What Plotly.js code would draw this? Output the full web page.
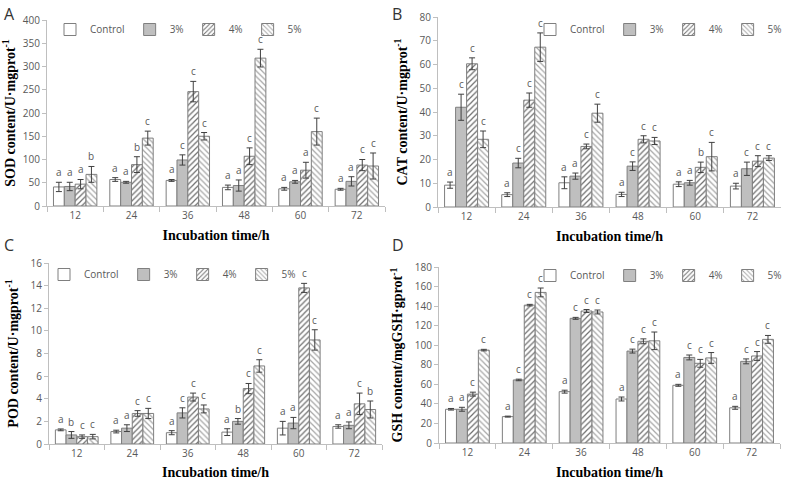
<!DOCTYPE html>
<html>
<head>
<meta charset="utf-8">
<script src="https://cdn.plot.ly/plotly-3.0.1.min.js"></script>
<style>html,body{margin:0;padding:0;background:#fff;}#chart{width:787px;height:480px;}</style>
</head>
<body>
<div id="chart"></div>
<script>
// ---------- data ----------
const categories = ['12', '24', '36', '48', '60', '72'];
const seriesNames = ['Control', '3%', '4%', '5%'];

// SOD (panel A): rows = Control, 3%, 4%, 5%
const sodMean = [[41, 57, 55, 40, 37, 36], [42, 51, 99, 44, 52, 53], [47, 89, 246, 107, 77, 88], [68, 146, 150, 318, 160, 86]];
const sodErr = [[10, 4, 2, 5, 3, 2], [9, 2, 11, 12, 3, 10], [10, 17, 22, 18, 17, 12], [17, 15, 8, 19, 29, 28]];
const sodLetters = [['a', 'a', 'a', 'a', 'a', 'a'], ['a', 'a', 'c', 'a', 'a', 'a'], ['a', 'b', 'c', 'c', 'a', 'c'], ['b', 'c', 'c', 'c', 'c', 'c']];

// CAT (panel B)
const catMean = [[9.2, 5.2, 10.2, 5.3, 9.6, 8.8], [42, 18.5, 13, 17.2, 10.2, 16.1], [60.3, 45, 25.5, 28.5, 16.7, 19.3], [28.5, 67.3, 39.5, 27.8, 21.2, 20.6]];
const catErr = [[1.3, 0.8, 2.5, 0.9, 1, 1.2], [5.5, 2, 1.3, 1.8, 1, 2.8], [2.5, 3, 1, 1.5, 2.2, 2.3], [3.5, 6, 3.8, 1.5, 6, 1]];
const catLetters = [['a', 'a', 'a', 'a', 'a', 'a'], ['c', 'c', 'a', 'c', 'a', 'c'], ['c', 'c', 'c', 'c', 'b', 'c'], ['c', 'c', 'c', 'c', 'c', 'c']];

// POD (panel C)
const podMean = [[1.25, 1.1, 1.0, 1.05, 1.4, 1.55], [0.8, 1.4, 2.75, 2.0, 1.85, 1.65], [0.65, 2.7, 4.15, 4.9, 13.8, 3.55], [0.65, 2.7, 3.1, 6.9, 9.2, 3.05]];
const podErr = [[0.08, 0.12, 0.18, 0.3, 0.6, 0.15], [0.3, 0.3, 0.45, 0.25, 0.5, 0.3], [0.15, 0.25, 0.35, 0.45, 0.4, 0.95], [0.2, 0.45, 0.35, 0.55, 0.9, 0.75]];
const podLetters = [['a', 'a', 'a', 'a', 'a', 'a'], ['b', 'a', 'c', 'b', 'a', 'a'], ['c', 'c', 'c', 'c', 'c', 'c'], ['c', 'c', 'c', 'c', 'c', 'b']];

// GSH (panel D)
const gshMean = [[34.5, 27, 52.5, 45, 59, 36], [34.5, 64.5, 127.5, 94, 87.5, 83.5], [50, 141, 135, 104, 81.5, 89], [95, 154, 134, 104.5, 87, 106]];
const gshErr = [[0.8, 0.5, 1.5, 2, 1, 1.5], [2, 0.8, 1, 2, 2.5, 2.5], [2, 0.8, 1.5, 2.5, 4, 4.5], [0.8, 4.5, 2, 9, 5.5, 4]];
const gshLetters = [['a', 'a', 'a', 'a', 'a', 'a'], ['a', 'c', 'c', 'c', 'c', 'c'], ['c', 'c', 'c', 'c', 'c', 'c'], ['c', 'c', 'c', 'c', 'c', 'c']];

// ---------- styles ----------
const outline = '#7f7f7f';
const BARGAP = 0.23;
const seriesMarkers = [
  {color: '#ffffff', line: {color: outline, width: 1}},
  {color: '#bfbfbf', line: {color: outline, width: 1}},
  {color: '#ffffff', line: {color: outline, width: 1}, pattern: {shape: '/', fgcolor: '#6e6e6e', bgcolor: '#ffffff', size: 4, solidity: 0.3}},
  {color: '#ffffff', line: {color: outline, width: 1}, pattern: {shape: '\\', fgcolor: '#a6a6a6', bgcolor: '#ffffff', size: 4, solidity: 0.3}}
];

const panels = [
  {mean: sodMean, err: sodErr, letters: sodLetters, xa: 'x', ya: 'y', legend: 'legend'},
  {mean: catMean, err: catErr, letters: catLetters, xa: 'x2', ya: 'y2', legend: 'legend2'},
  {mean: podMean, err: podErr, letters: podLetters, xa: 'x3', ya: 'y3', legend: 'legend3'},
  {mean: gshMean, err: gshErr, letters: gshLetters, xa: 'x4', ya: 'y4', legend: 'legend4'}
];

const traces = [];
const letterAnnotations = [];
const nSeries = seriesNames.length;
const barW = (1 - BARGAP) / nSeries;
panels.forEach(function (p) {
  seriesNames.forEach(function (name, k) {
    traces.push({
      type: 'bar', name: name, x: categories, y: p.mean[k],
      xaxis: p.xa, yaxis: p.ya, legend: p.legend,
      marker: seriesMarkers[k],
      error_y: {type: 'data', array: p.err[k], visible: true, color: '#404040', thickness: 1, width: 3},
      hoverinfo: 'x+y'
    });
    // significance letters: placed on the category axis scale (serial index + group offset)
    categories.forEach(function (c, i) {
      letterAnnotations.push({
        xref: p.xa, yref: p.ya,
        x: i + (k - (nSeries - 1) / 2) * barW,
        y: p.mean[k][i] + p.err[k][i],
        text: p.letters[k][i], showarrow: false,
        xanchor: 'center', yanchor: 'bottom', yshift: 1,
        font: {family: 'Open Sans, sans-serif', size: 10, color: '#595959'}
      });
    });
  });
});

const tickFont = {family: 'Open Sans, sans-serif', size: 10, color: '#595959'};
const titleFont = {family: 'Liberation Serif, Times New Roman, serif', size: 14, color: '#000'};

function xAxis(domain, anchor) {
  return {
    domain: domain, anchor: anchor, type: 'category',
    showline: true, linecolor: '#bfbfbf', linewidth: 1,
    ticks: 'outside', tickson: 'boundaries', ticklen: 5, tickcolor: '#bfbfbf',
    tickfont: tickFont, showgrid: false, zeroline: false, fixedrange: true,
    title: {text: '<b>Incubation time/h</b>', font: titleFont, standoff: 9}
  };
}
function yAxis(domain, anchor, range, dtick, title) {
  return {
    domain: domain, anchor: anchor, range: range, dtick: dtick,
    showline: true, linecolor: '#bfbfbf', linewidth: 1,
    ticks: 'outside', ticklen: 4, tickcolor: '#bfbfbf',
    tickfont: tickFont, showgrid: false, zeroline: false, fixedrange: true,
    title: {text: '<b>' + title + '</b>', font: titleFont, standoff: 8}
  };
}
function legendAt(x, y, xanchor) {
  return {x: x, y: y, xanchor: xanchor, yanchor: 'top', orientation: 'h',
    bgcolor: 'rgba(0,0,0,0)', font: {family: 'Open Sans, sans-serif', size: 10, color: '#595959'},
    itemwidth: 30, tracegroupgap: 0};
}

const W = 787, H = 480;
const panelLabelFont = {family: 'Open Sans, sans-serif', size: 16, color: '#333'};
const panelLabels = [
  {text: 'A', x: 2 / W, y: 1 - 1 / H}, {text: 'B', x: 390 / W, y: 1 - 1 / H},
  {text: 'C', x: 2 / W, y: 1 - 232 / H}, {text: 'D', x: 390 / W, y: 1 - 232 / H}
].map(function (a) {
  return Object.assign({xref: 'paper', yref: 'paper', xanchor: 'left', yanchor: 'top', showarrow: false, font: panelLabelFont}, a);
});

const layout = {
  width: W, height: H,
  margin: {l: 0, r: 0, t: 0, b: 0},
  paper_bgcolor: '#fff', plot_bgcolor: '#fff',
  barmode: 'group', bargap: BARGAP, bargroupgap: 0,
  showlegend: true,
  xaxis: xAxis([47 / W, 385 / W], 'y'),
  yaxis: yAxis([1 - 206 / H, 1 - 20 / H], 'x', [0, 400], 50, 'SOD content/U·mgprot<sup>-1</sup>'),
  xaxis2: xAxis([438 / W, 781 / W], 'y2'),
  yaxis2: yAxis([1 - 207 / H, 1 - 17 / H], 'x2', [0, 80], 10, 'CAT content/U·mgprot<sup>-1</sup>'),
  xaxis3: xAxis([49 / W, 382 / W], 'y3'),
  yaxis3: yAxis([1 - 444 / H, 1 - 263 / H], 'x3', [0, 16], 2, 'POD content/U·mgprot<sup>-1</sup>'),
  xaxis4: xAxis([439 / W, 780 / W], 'y4'),
  yaxis4: yAxis([1 - 443 / H, 1 - 267 / H], 'x4', [0, 180], 20, 'GSH content/mgGSH·gprot<sup>-1</sup>'),
  legend: legendAt(50 / W, 1 - 15 / H, 'left'),
  legend2: legendAt(1, 1 - 15 / H, 'right'),
  legend3: legendAt(44 / W, 1 - 260 / H, 'left'),
  legend4: legendAt(1, 1 - 261 / H, 'right'),
  annotations: panelLabels.concat(letterAnnotations)
};

Plotly.newPlot('chart', traces, layout, {displayModeBar: false, staticPlot: true});
</script>
</body>
</html>
